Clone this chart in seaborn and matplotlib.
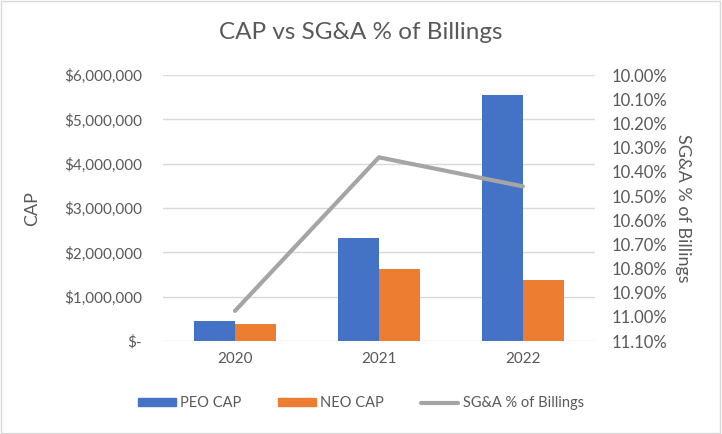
import matplotlib.pyplot as plt
import matplotlib.ticker as mticker
from matplotlib.patches import Patch, Rectangle
from matplotlib.lines import Line2D
import numpy as np
import pandas as pd
import seaborn as sns

# Data
years = ['2020', '2021', '2022']
peo_cap = [450000, 2330000, 5540000]
neo_cap = [380000, 1630000, 1380000]
sga_pct = [10.975, 10.34, 10.46]

blue = '#4472C4'
orange = '#ED7D31'
grey = '#A5A5A5'
text_c = '#595959'

sns.set_theme(style='white')
plt.rcParams['font.family'] = ['Lato', 'DejaVu Sans']

df = pd.DataFrame({
    'year': years * 2,
    'cap': peo_cap + neo_cap,
    'series': ['PEO CAP'] * 3 + ['NEO CAP'] * 3,
})

fig = plt.figure(figsize=(7.22, 4.34), dpi=100)
ax = fig.add_axes([0.2258, 0.214, 0.598, 0.613])

sns.barplot(data=df, x='year', y='cap', hue='series', palette=[blue, orange],
            width=0.57, saturation=1, linewidth=0, ax=ax, legend=False)

ax.set_ylim(0, 6000000)
ax.yaxis.set_major_locator(mticker.MultipleLocator(1000000))
ax.yaxis.set_major_formatter(mticker.FuncFormatter(
    lambda v, p: '$-' if v == 0 else f'${v:,.0f}'))
ax.grid(axis='y', color='#D9D9D9', linewidth=1)
ax.set_axisbelow(True)
for s in ax.spines.values():
    s.set_visible(False)
ax.tick_params(axis='y', length=0, colors=text_c, labelsize=11, pad=15)
ax.tick_params(axis='x', length=0, colors=text_c, labelsize=11, pad=8)
ax.set_xlabel('')
ax.set_ylabel('CAP', color=text_c, fontsize=13)
ax.yaxis.set_label_coords(-0.285, 0.5)

ax2 = ax.twinx()
sns.lineplot(x=np.arange(len(years)), y=sga_pct, color=grey, linewidth=3,
             ax=ax2, legend=False)
ax.set_xlim(-0.5, len(years) - 0.5)
ax2.set_ylim(11.10, 10.00)
ax2.yaxis.set_major_locator(mticker.MultipleLocator(0.1))
ax2.yaxis.set_major_formatter(mticker.FuncFormatter(lambda v, p: f'{v:.2f}%'))
for s in ax2.spines.values():
    s.set_visible(False)
ax2.tick_params(axis='y', length=0, colors=text_c, labelsize=12, pad=12)
ax2.set_ylabel('SG&A % of Billings', color=text_c, fontsize=13, rotation=270,
               va='center')
ax2.yaxis.set_label_coords(1.204, 0.5)

fig.suptitle('CAP vs SG&A % of Billings', color=text_c, fontsize=17.5, y=0.95)

handles = [Patch(color=blue), Patch(color=orange),
           Line2D([0], [0], color=grey, linewidth=3)]
fig.legend(handles, ['PEO CAP', 'NEO CAP', 'SG&A % of Billings'],
           loc='center', bbox_to_anchor=(0.5, 0.071), ncol=3, frameon=False,
           fontsize=10.5, labelcolor=text_c, handlelength=2.6,
           handleheight=0.5, columnspacing=2.5, handletextpad=0.3)

fig.patches.append(Rectangle((0.002, 0.003), 0.995, 0.994, transform=fig.transFigure,
                             fill=False, edgecolor='#D9D9D9', linewidth=1))

fig.savefig('out.png', dpi=100)
